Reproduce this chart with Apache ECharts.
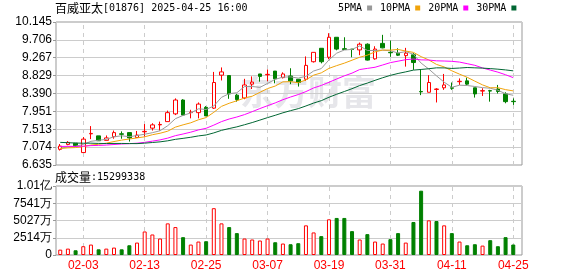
<!DOCTYPE html>
<html><head><meta charset="utf-8">
<script src="https://cdn.jsdelivr.net/npm/echarts@6/dist/echarts.min.js"></script>
<style>html,body{margin:0;padding:0;background:#fff}#c{width:578px;height:276px}</style>
</head><body><div id="c"></div>
<script>
const dates=['01-24','01-27','01-28','02-03','02-04','02-05','02-06','02-07','02-10','02-11','02-12','02-13','02-14','02-17','02-18','02-19','02-20','02-21','02-24','02-25','02-26','02-27','02-28','03-03','03-04','03-05','03-06','03-07','03-10','03-11','03-12','03-13','03-14','03-17','03-18','03-19','03-20','03-21','03-24','03-25','03-26','03-27','03-28','03-31','04-01','04-02','04-03','04-07','04-08','04-09','04-10','04-11','04-14','04-15','04-16','04-17','04-22','04-23','04-24','04-25'];
const openP=[7.02,7.14,7.17,6.94,7.40,7.35,7.24,7.33,7.40,7.43,7.31,7.45,7.54,7.62,7.70,7.89,8.23,7.92,7.92,8.05,8.03,8.84,8.83,8.35,8.28,8.62,8.87,8.85,8.94,8.78,8.82,8.74,8.74,9.17,9.50,9.28,9.77,9.49,9.48,9.46,9.60,9.24,9.62,9.40,9.38,9.32,9.34,8.44,8.42,8.49,8.53,8.53,8.68,8.70,8.53,8.45,8.46,8.50,8.38,8.20];
const closeP=[7.10,7.19,7.11,7.27,7.41,7.23,7.30,7.43,7.39,7.30,7.37,7.46,7.62,7.63,7.92,8.23,7.86,7.93,8.13,7.84,8.66,8.92,8.38,8.24,8.60,8.67,8.81,8.86,8.75,8.87,8.70,8.66,9.08,9.40,9.17,9.77,9.48,9.47,9.47,9.60,9.21,9.48,9.51,9.39,9.33,9.38,9.15,8.43,8.66,8.50,8.60,8.52,8.69,8.62,8.38,8.46,8.45,8.44,8.19,8.19];
const highP=[7.15,7.22,7.17,7.32,7.59,7.35,7.36,7.48,7.46,7.43,7.47,7.64,7.66,7.70,7.97,8.27,8.25,7.99,8.17,8.08,8.92,9.03,8.84,8.38,8.75,8.81,8.87,8.98,8.94,8.91,9.01,8.74,9.30,9.40,9.50,9.87,9.77,9.77,9.48,9.64,9.62,9.55,9.83,9.69,9.50,9.51,9.38,8.97,8.84,8.52,8.87,8.66,8.76,8.78,8.53,8.52,8.48,8.60,8.42,8.27];
const lowP=[6.99,7.12,7.08,6.94,7.27,7.23,7.24,7.28,7.28,7.21,7.30,7.33,7.48,7.48,7.70,7.86,7.84,7.78,7.78,7.84,8.01,8.71,8.26,8.19,8.25,8.50,8.68,8.69,8.64,8.76,8.62,8.56,8.70,9.15,9.13,9.23,9.45,9.46,9.28,9.33,9.20,9.22,9.50,9.29,9.31,9.05,8.97,8.35,8.42,8.17,8.48,8.48,8.60,8.60,8.29,8.33,8.19,8.39,8.15,8.11];
const volume=[7800000,9300000,6900000,12800000,15200000,8300000,9300000,10800000,8300000,14200000,18100000,34300000,29900000,24000000,46100000,40700000,26000000,15200000,19600000,20100000,68200000,46100000,40700000,31900000,24000000,22600000,21100000,24000000,18600000,16700000,15700000,17200000,43200000,32900000,27500000,52000000,54000000,54000000,34800000,22600000,30400000,19600000,16700000,23100000,31900000,18100000,48100000,93700000,50500000,49500000,43200000,31900000,19600000,14200000,15700000,13700000,21600000,12800000,26000000,15299338];
const ma5=[7.046,7.078,7.093,7.141,7.216,7.242,7.264,7.328,7.352,7.330,7.358,7.390,7.428,7.476,7.600,7.772,7.852,7.914,8.014,7.998,8.084,8.296,8.386,8.408,8.560,8.562,8.540,8.636,8.738,8.792,8.798,8.768,8.812,8.942,9.002,9.216,9.380,9.458,9.472,9.558,9.446,9.446,9.454,9.438,9.384,9.418,9.352,9.136,8.990,8.824,8.668,8.542,8.594,8.586,8.562,8.534,8.520,8.470,8.384,8.346];
const ma10=[7.040,7.055,7.063,7.087,7.125,7.144,7.171,7.211,7.246,7.273,7.300,7.327,7.378,7.414,7.465,7.565,7.621,7.671,7.745,7.799,7.928,8.074,8.150,8.211,8.279,8.323,8.418,8.511,8.573,8.676,8.680,8.654,8.724,8.840,8.897,9.007,9.074,9.135,9.207,9.280,9.331,9.413,9.456,9.455,9.471,9.432,9.399,9.295,9.214,9.104,9.043,8.947,8.865,8.788,8.693,8.601,8.531,8.532,8.485,8.454];
const ma20=[7.090,7.093,7.091,7.098,7.111,7.116,7.124,7.138,7.151,7.159,7.170,7.191,7.221,7.251,7.295,7.355,7.396,7.441,7.496,7.536,7.614,7.700,7.764,7.813,7.872,7.944,8.020,8.091,8.159,8.238,8.304,8.364,8.437,8.526,8.588,8.665,8.746,8.823,8.890,8.978,9.006,9.034,9.090,9.148,9.184,9.220,9.237,9.215,9.211,9.192,9.187,9.180,9.161,9.122,9.082,9.017,8.965,8.914,8.850,8.779];
const ma30=[7.190,7.183,7.174,7.170,7.171,7.165,7.162,7.164,7.164,7.161,7.160,7.171,7.187,7.203,7.229,7.265,7.289,7.316,7.349,7.372,7.423,7.485,7.530,7.571,7.623,7.677,7.737,7.798,7.855,7.916,7.969,8.018,8.084,8.155,8.214,8.298,8.371,8.439,8.508,8.585,8.646,8.714,8.777,8.835,8.882,8.921,8.964,8.980,8.998,9.020,9.018,9.005,9.015,9.028,9.020,9.013,9.001,8.987,8.969,8.946];
const priceTicks=['6.635','7.074','7.513','7.951','8.390','8.829','9.267','9.706','10.145'];
const volTicks=['0','2514万','5027万','7541万','1.01亿'];
const labelDates=['02-03','02-13','02-25','03-07','03-19','03-31','04-11','04-25'];
const PMIN=6.635, PMAX=10.145, PSTEP=0.43875;
const VMAX=100546000, VSTEP=25136500;

const RED='#ff0000', GREEN='#008000', GRID='#cccccc', BORDER='#999999';
const C5='#999999', C10='#f0a30a', C20='#ff00ff', C30='#006633';
const LBL='Liberation Sans', CJK='Noto Sans CJK SC', MONO='DejaVu Sans Mono';

const chart=echarts.init(document.getElementById('c'),null,{renderer:'canvas'});
const kData=dates.map((d,i)=>[openP[i],closeP[i],lowP[i],highP[i]]);
const volData=volume.map((v,i)=>{
  const up = i===0 ? closeP[i]>=openP[i] : closeP[i]>closeP[i-1];
  return {value:v,itemStyle: up?{color:'#fff',borderColor:RED,borderWidth:1}:{color:GREEN,borderColor:GREEN,borderWidth:1}};
});
const vMark={symbol:'none',silent:true,z:1,animation:false,label:{show:false},
  lineStyle:{color:GRID,type:[4,4],width:1},data:labelDates.map(d=>({xAxis:d}))};
function maSeries(name,data,color){
  return {name,type:'line',xAxisIndex:1,yAxisIndex:1,data,symbol:'none',showSymbol:false,z:4,
    lineStyle:{color,width:1},itemStyle:{color},emphasis:{disabled:true}};
}
const richTitle={a:{fontFamily:CJK,fontSize:12,color:'#000',fontWeight:'normal'},b:{fontFamily:MONO,fontSize:10,color:'#000',fontWeight:'normal'}};
chart.setOption({
  animation:false,
  textStyle:{fontFamily:LBL},
  title:[
    {text:'{a|百威亚太}{b|[01876] 2025-04-25 16:00}',left:55,top:2,padding:0,
     textStyle:{fontWeight:'normal',rich:richTitle}},
    {text:'{a|成交量}{b|:15299338}',left:55,top:171,padding:0,
     textStyle:{fontWeight:'normal',rich:richTitle}}
  ],
  legend:{left:338,top:3,padding:0,itemWidth:5,itemHeight:5,itemGap:8,align:'right',icon:'rect',
    textStyle:{fontFamily:MONO,fontSize:10,color:'#000'},data:['5PMA','10PMA','20PMA','30PMA']},
  graphic:[{type:'text',left:240,top:75,z:-10,silent:true,
    style:{text:'东方财富',fontSize:34,fontWeight:'bold',fill:'#e6e6ea',fontFamily:CJK}}],
  grid:[
    {left:56,top:22,width:466,height:143,show:true,borderColor:BORDER,borderWidth:1,backgroundColor:'transparent'},
    {left:56.4,top:22,width:460.7,height:143,show:false},
    {left:56,top:186,width:466,height:69,show:true,borderColor:BORDER,borderWidth:1,backgroundColor:'transparent'},
    {left:56.4,top:186,width:460.7,height:69,show:false}
  ],
  xAxis:[
    {gridIndex:0,type:'value',show:false,min:0,max:1},
    {gridIndex:1,type:'category',data:dates,boundaryGap:true,axisLine:{show:false},axisTick:{show:false},axisLabel:{show:false},splitLine:{show:false}},
    {gridIndex:2,type:'value',show:false,min:0,max:1},
    {gridIndex:3,type:'category',data:dates,boundaryGap:true,axisLine:{show:false},axisTick:{show:false},splitLine:{show:false},
     axisLabel:{color:RED,fontSize:12,fontFamily:LBL,margin:5,interval:(i,v)=>labelDates.indexOf(v)>=0}}
  ],
  yAxis:[
    {gridIndex:0,type:'value',min:PMIN,max:PMAX,interval:PSTEP,axisLine:{show:false},
     axisTick:{show:true,length:3,lineStyle:{color:BORDER}},
     axisLabel:{color:'#000',fontSize:12,fontFamily:LBL,margin:4,formatter:v=>priceTicks[Math.round((v-PMIN)/PSTEP)]||''},
     splitLine:{show:true,lineStyle:{color:GRID,width:1}}},
    {gridIndex:1,type:'value',min:PMIN,max:PMAX,show:false,splitLine:{show:false}},
    {gridIndex:2,type:'value',min:0,max:VMAX,interval:VSTEP,axisLine:{show:false},
     axisTick:{show:true,length:3,lineStyle:{color:BORDER}},
     axisLabel:{color:'#000',fontSize:12,fontFamily:LBL,margin:4,formatter:v=>volTicks[Math.round(v/VSTEP)]||''},
     splitLine:{show:true,lineStyle:{color:GRID,width:1}}},
    {gridIndex:3,type:'value',min:0,max:VMAX,show:false,splitLine:{show:false}}
  ],
  series:[
    {name:'K',type:'candlestick',xAxisIndex:1,yAxisIndex:1,data:kData,barWidth:4,z:3,
     itemStyle:{color:'#ffffff',color0:GREEN,borderColor:RED,borderColor0:GREEN,borderWidth:1},
     markLine:vMark},
    maSeries('5PMA',ma5,C5),
    maSeries('10PMA',ma10,C10),
    maSeries('20PMA',ma20,C20),
    maSeries('30PMA',ma30,C30),
    {name:'VOL',type:'bar',xAxisIndex:3,yAxisIndex:3,data:volData,barWidth:4,z:3,markLine:vMark}
  ]
});
</script></body></html>
